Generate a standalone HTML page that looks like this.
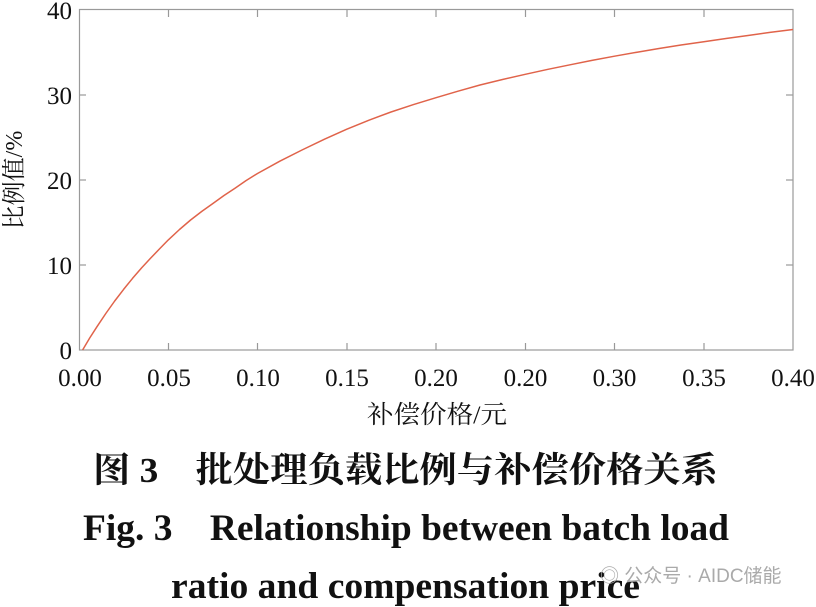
<!DOCTYPE html>
<html><head><meta charset="utf-8"><style>
body{margin:0;width:816px;height:607px;background:#fff;overflow:hidden;position:relative;font-family:"Liberation Serif","Noto Serif CJK SC",serif}
</style></head><body>
<svg width="816" height="607" style="position:absolute;left:0;top:0">
<rect x="79.5" y="9.5" width="713.5" height="340.5" fill="none" stroke="#999" stroke-width="1.2"/>
<g stroke="#999" stroke-width="1.2">
<line x1="168.5" y1="350" x2="168.5" y2="343"/><line x1="257.5" y1="350" x2="257.5" y2="343"/><line x1="347" y1="350" x2="347" y2="343"/><line x1="436" y1="350" x2="436" y2="343"/><line x1="525.5" y1="350" x2="525.5" y2="343"/><line x1="614.5" y1="350" x2="614.5" y2="343"/><line x1="704" y1="350" x2="704" y2="343"/>
<line x1="168.5" y1="10" x2="168.5" y2="17"/><line x1="257.5" y1="10" x2="257.5" y2="17"/><line x1="347" y1="10" x2="347" y2="17"/><line x1="436" y1="10" x2="436" y2="17"/><line x1="525.5" y1="10" x2="525.5" y2="17"/><line x1="614.5" y1="10" x2="614.5" y2="17"/><line x1="704" y1="10" x2="704" y2="17"/>
<line x1="79" y1="95" x2="86" y2="95"/><line x1="79" y1="180" x2="86" y2="180"/><line x1="79" y1="265" x2="86" y2="265"/>
<line x1="793" y1="95" x2="786" y2="95"/><line x1="793" y1="180" x2="786" y2="180"/><line x1="793" y1="265" x2="786" y2="265"/>
</g>
<polyline fill="none" stroke="#e0634a" stroke-width="1.5" stroke-linejoin="round" points="82.6,350 89.7,338 96.9,326.8 105.8,313.5 114.7,301 123.6,289.4 132.6,278.3 141.5,268 150.4,258.4 159.4,249 168.3,239.9 179.5,229.5 190.6,220 201.8,211.4 212.9,203.5 224,195.5 235,188.2 246,180.6 257.5,173.5 279.8,161.2 302,150 324.5,139.2 346.8,129.2 369,120.2 391,112 413.5,104.6 436,97.7 458,91.2 480,85 502.5,79.5 525.3,74.3 548,69.3 570,64.8 592,60.4 614.5,56.2 637,52.2 659,48.5 681,45 703.8,41.7 726,38.5 748,35.5 770,32.4 793,29.5"/>
<g font-family="Liberation Serif,serif" font-size="25" fill="#111" text-anchor="end">
<text x="72" y="19">40</text><text x="72" y="104">30</text><text x="72" y="189">20</text><text x="72" y="274">10</text><text x="72" y="359">0</text>
</g>
<g font-family="Liberation Serif,serif" font-size="25" fill="#111" text-anchor="middle">
<text x="80" y="386">0.00</text><text x="169" y="386">0.05</text><text x="258" y="386">0.10</text><text x="347" y="386">0.15</text><text x="436" y="386">0.20</text><text x="525.5" y="386">0.20</text><text x="614.5" y="386">0.30</text><text x="704" y="386">0.35</text><text x="793" y="386">0.40</text>
</g>
<text transform="translate(22,180) rotate(-90)" text-anchor="middle" font-family="Liberation Serif,'Noto Serif CJK SC',serif" font-size="24" fill="#111">比例值/%</text>
<text x="367" y="423" textLength="140" lengthAdjust="spacingAndGlyphs" font-family="Liberation Serif,'Noto Serif CJK SC',serif" font-size="25" fill="#111">补偿价格/元</text>
<text x="93" y="482" textLength="625" lengthAdjust="spacingAndGlyphs" font-family="Liberation Serif,'Noto Serif CJK SC',serif" font-weight="bold" font-size="35" fill="#111">图 3　批处理负载比例与补偿价格关系</text>
<text x="83" y="540" textLength="646" lengthAdjust="spacingAndGlyphs" font-family="Liberation Serif,serif" font-weight="bold" font-size="37" fill="#111">Fig. 3　Relationship between batch load</text>
<text x="171" y="598" textLength="469" lengthAdjust="spacingAndGlyphs" font-family="Liberation Serif,serif" font-weight="bold" font-size="37" fill="#111">ratio and compensation price</text>
<text x="600" y="582" font-family="Liberation Sans,'Noto Sans CJK SC',sans-serif" font-size="19" fill="#aaa">◎ 公众号 · AIDC储能</text>
</svg>
</body></html>
